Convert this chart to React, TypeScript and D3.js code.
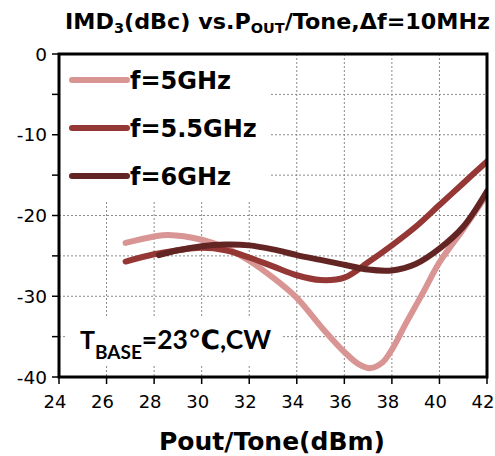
import React from "react";
import * as d3 from "d3";

const pout5 = [26.8, 28, 28.6, 30, 31, 32, 33, 34, 35, 36, 36.6, 37.1, 37.6, 38, 38.6, 39.3, 40, 41, 42];
const imd5 = [-23.4, -22.6, -22.4, -23.0, -24.0, -25.6, -27.7, -30.2, -33.7, -36.9, -38.4, -38.9, -38.2, -36.6, -33.3, -29.6, -25.8, -21.7, -17.4];

const pout55 = [26.8, 28, 29, 30, 31, 32, 33, 34, 35, 36, 37, 38, 39, 40, 41, 42];
const imd55 = [-25.7, -24.8, -24.3, -24.0, -24.3, -25.2, -26.3, -27.4, -28.0, -27.7, -25.8, -23.7, -21.4, -18.7, -16.0, -13.3];

const pout6 = [28.2, 29, 30, 31, 32, 33, 34, 35, 36, 37, 38, 39, 40, 41, 42];
const imd6 = [-24.9, -24.3, -23.8, -23.6, -23.7, -24.2, -24.9, -25.5, -26.1, -26.7, -26.8, -26.0, -24.1, -21.4, -17.0];

const seriesNames = ["f=5GHz", "f=5.5GHz", "f=6GHz"];
const seriesColors = ["#D99594", "#953735", "#632523"];

const xTicks = [24, 26, 28, 30, 32, 34, 36, 38, 40, 42];
const yTicks = [0, -10, -20, -30, -40];
const yGrid = [-5, -10, -15, -20, -25, -30, -35];
const yMinor = [0, -5, -10, -15, -20, -25, -30, -35, -40];

const W = 495;
const H = 456;
const L = 59, R = 487, T = 54, B = 377;

export default function App() {
  const x = d3.scaleLinear().domain([24, 42]).range([L, R]);
  const y = d3.scaleLinear().domain([-40, 0]).range([B, T]);
  const line = d3
    .line<[number, number]>()
    .x((d) => x(d[0]))
    .y((d) => y(d[1]))
    .curve(d3.curveCatmullRom.alpha(0.5));

  const series = [
    pout5.map((p, i) => [p, imd5[i]] as [number, number]),
    pout55.map((p, i) => [p, imd55[i]] as [number, number]),
    pout6.map((p, i) => [p, imd6[i]] as [number, number]),
  ];
  const font = "'DejaVu Sans', Verdana, sans-serif";
  const gridColor = "#8a8a8a";

  return (
    <svg
      width={W}
      height={H}
      style={{ position: "absolute", left: 0, top: 0, background: "#fff" }}
      fontFamily={font}
    >
      <rect x={0} y={0} width={W} height={H} fill="#fff" />
      <defs>
        <clipPath id="plot">
          <rect x={L} y={T} width={R - L} height={B - T} />
        </clipPath>
      </defs>
      {/* grid */}
      {yGrid.map((v) => (
        <line
          key={"gy" + v}
          x1={L}
          x2={R}
          y1={y(v)}
          y2={y(v)}
          stroke={gridColor}
          strokeWidth={1}
          strokeDasharray="2,2"
        />
      ))}
      {xTicks.slice(1, -1).map((v) => (
        <line
          key={"gx" + v}
          x1={x(v)}
          x2={x(v)}
          y1={T}
          y2={B}
          stroke={gridColor}
          strokeWidth={1}
          strokeDasharray="2,2"
        />
      ))}
      {/* legend background */}
      <rect x={L} y={T} width={271 - L} height={201 - T} fill="#fff" />
      {/* annotation background */}
      <rect x={67} y={318} width={282 - 67} height={365 - 318} fill="#fff" />

      {/* lines */}
      <g clipPath="url(#plot)">
        {series.map((s, i) => (
          <path
            key={i}
            d={line(s) || ""}
            fill="none"
            stroke={seriesColors[i]}
            strokeWidth={6}
            strokeLinecap="round"
            strokeLinejoin="round"
          />
        ))}
      </g>

      {/* frame */}
      <rect x={L} y={T} width={R - L} height={B - T} fill="none" stroke="#000" strokeWidth={3} />

      {/* y ticks */}
      {yMinor.map((v) => (
        <line key={"yt" + v} x1={L - 7} x2={L} y1={y(v)} y2={y(v)} stroke="#000" strokeWidth={1.5} />
      ))}
      {yTicks.map((v) => (
        <text
          key={"yl" + v}
          x={47}
          y={y(v)}
          textAnchor="end"
          dominantBaseline="central"
          fontSize={18.5}
          fill="#000"
        >
          {v === 0 ? "0" : "-" + Math.abs(v)}
        </text>
      ))}
      {/* x ticks */}
      {xTicks.map((v) => (
        <line key={"xt" + v} x1={x(v)} x2={x(v)} y1={B} y2={B + 7} stroke="#000" strokeWidth={1.5} />
      ))}
      {xTicks.map((v) => (
        <text key={"xl" + v} x={x(v) - 4} y={408} textAnchor="middle" fontSize={18} fill="#000">
          {v}
        </text>
      ))}

      {/* legend */}
      {seriesNames.map((n, i) => (
        <g key={n}>
          <line
            x1={72}
            x2={127}
            y1={80 + i * 48}
            y2={80 + i * 48}
            stroke={seriesColors[i]}
            strokeWidth={6}
            strokeLinecap="round"
          />
          <text x={130} y={80 + i * 48 + 9} fontSize={24} fontWeight="bold" fill="#000">
            {n}
          </text>
        </g>
      ))}

      {/* annotation */}
      <text x={80} y={349} fontSize={25} fontWeight="bold" fill="#000" fontFamily="Lato, 'DejaVu Sans', sans-serif">
        T
        <tspan fontSize={19} dy={10}>BASE</tspan>
        <tspan dy={-10} fontSize={26.5}>=23℃,CW</tspan>
      </text>

      {/* title */}
      <text x={65} y={29} fontSize={21.5} fontWeight="bold" fill="#000" textLength={425} lengthAdjust="spacingAndGlyphs">
        IMD
        <tspan fontSize={14} dy={4}>3</tspan>
        <tspan dy={-4}>(dBc) vs.P</tspan>
        <tspan fontSize={14} dy={4}>OUT</tspan>
        <tspan dy={-4}>/Tone,Δf=10MHz</tspan>
      </text>

      {/* x axis title */}
      <text x={272} y={450} textAnchor="middle" fontSize={25} fontWeight="bold" fill="#000">
        Pout/Tone(dBm)
      </text>
    </svg>
  );
}
